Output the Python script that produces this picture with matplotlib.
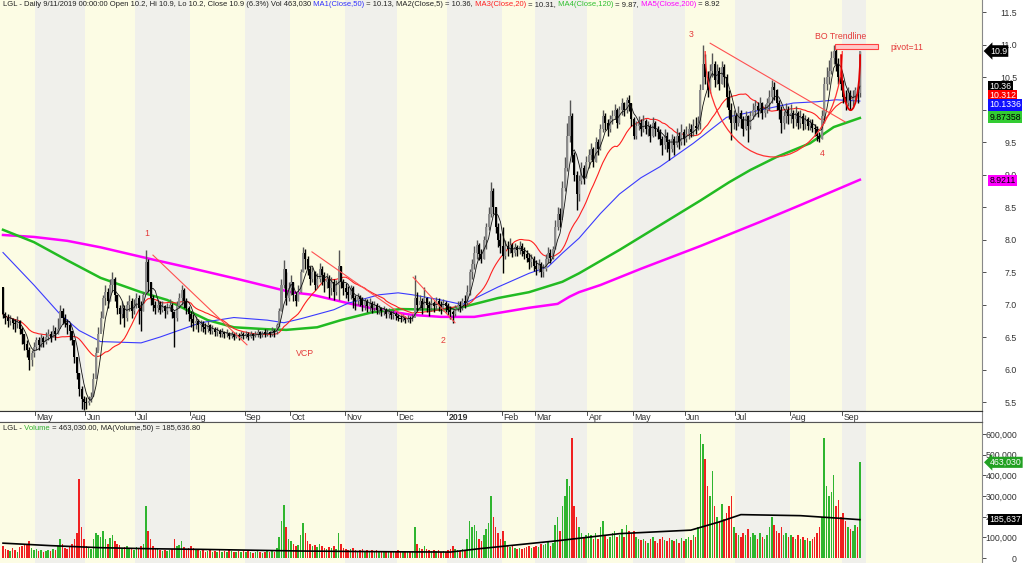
import numpy as np
import pandas as pd
import matplotlib
matplotlib.use("Agg")
import matplotlib.pyplot as plt
from matplotlib import transforms
from matplotlib.patches import Arc, Rectangle

plt.rcParams['font.family'] = ['Liberation Sans', 'DejaVu Sans']

# --- daily bars, Apr 2018 .. 11 Sep 2019 (one row per month) ---
closes = [
    6.85, 6.80, 6.75, 6.78, 6.72, 6.70, 6.74, 6.62, 6.55, 6.40, 6.30, 6.15, 6.25, 6.35,
    6.45, 6.38, 6.48, 6.42, 6.50, 6.55, 6.48, 6.60, 6.55, 6.62, 6.90, 6.80, 6.72, 6.68, 6.60, 6.45, 6.20, 5.95, 5.70, 5.55, 5.50,
    5.48, 5.52, 5.58, 5.85, 6.25, 6.55, 6.80, 7.10, 7.20, 7.05, 7.30, 7.40, 7.15, 6.95, 6.85, 6.95, 6.80, 7.00, 7.05, 6.90, 7.00,
    7.10, 6.95, 6.90, 7.15, 7.65, 7.35, 7.10, 7.00, 6.95, 7.00, 6.92, 6.98, 6.90, 6.95, 7.00, 6.88, 6.80, 6.98, 7.10, 7.22, 7.05, 6.95, 6.85,
    6.78, 6.72, 6.75, 6.68, 6.70, 6.65, 6.62, 6.68, 6.60, 6.62, 6.58, 6.60, 6.55, 6.58, 6.54, 6.56, 6.52, 6.55, 6.50, 6.53, 6.50, 6.55, 6.52,
    6.55, 6.50, 6.54, 6.52, 6.55, 6.58, 6.53, 6.56, 6.55, 6.58, 6.55, 6.60, 6.58, 6.68, 6.90, 7.30, 7.55, 7.10, 7.25,
    7.35, 7.15, 7.05, 7.20, 7.50, 7.80, 7.70, 7.55, 7.40, 7.50, 7.30, 7.40, 7.55, 7.45, 7.35, 7.40, 7.25, 7.35, 7.20, 7.30, 7.60, 7.35, 7.25,
    7.20, 7.15, 7.25, 7.10, 7.05, 7.12, 7.08, 7.00, 7.05, 6.98, 7.02, 6.95, 7.00, 6.92, 6.95, 6.90, 6.92, 6.86, 6.88, 6.84, 6.86, 6.82,
    6.80, 6.78, 6.80, 6.76, 6.79, 6.77, 6.80, 7.10, 7.00, 7.05, 6.95, 7.10, 7.00, 6.95, 7.02, 6.98, 7.05, 7.00, 6.95, 7.02, 6.98,
    6.92, 6.88, 6.85, 6.95, 7.00, 6.98, 7.05, 7.02, 7.20, 7.50, 7.62, 7.80, 7.92, 7.78, 7.70, 8.00, 8.20, 8.40, 8.75, 8.50, 8.20, 8.00, 7.90,
    7.75, 7.90, 7.85, 7.92, 7.80, 7.88, 7.84, 7.90, 7.82, 7.78, 7.72, 7.65, 7.70, 7.60,
    7.55, 7.62, 7.50, 7.55, 7.70, 7.80, 7.72, 7.85, 8.20, 8.40, 8.30, 8.80, 9.10, 9.60, 9.90, 9.30, 9.00, 8.70, 8.90, 9.10, 8.95, 9.20,
    9.30, 9.40, 9.20, 9.50, 9.40, 9.70, 9.90, 9.80, 9.70, 9.85, 9.90, 10.00, 9.80, 10.00, 10.10, 10.00, 10.15, 10.10, 9.85,
    9.60, 9.75, 9.80, 9.70, 9.82, 9.70, 9.75, 9.60, 9.80, 9.70, 9.65, 9.55, 9.45, 9.60, 9.50, 9.40, 9.55, 9.45, 9.60, 9.50, 9.65, 9.55,
    9.62, 9.70, 9.65, 9.75, 9.72, 9.80, 10.30, 10.70, 10.50, 10.30, 10.60, 10.70, 10.45, 10.60, 10.40, 10.65, 10.50, 10.20, 10.00, 9.80, 9.90,
    9.80, 9.95, 9.85, 9.70, 9.90, 9.75, 9.90, 10.00, 10.05, 10.00, 10.10, 9.95, 10.00, 10.10, 10.20, 10.35, 10.30, 10.10, 10.00, 9.80, 9.90, 10.00, 9.90,
    9.95, 9.85, 9.95, 9.80, 9.90, 9.78, 9.85, 9.75, 9.80, 9.72, 9.70, 9.60, 9.55, 9.90, 10.40, 10.50, 10.60, 10.80, 10.90, 10.70, 10.50, 10.40,
    10.20, 10.10, 10.25, 10.15, 10.20, 10.30, 10.25, 10.90,
]
highs = [
    7.27, 6.88, 6.85, 6.84, 6.80, 6.78, 6.82, 6.76, 6.65, 6.55, 6.45, 6.35, 6.30, 6.42,
    6.50, 6.50, 6.55, 6.52, 6.58, 6.62, 6.60, 6.68, 6.65, 6.80, 7.00, 6.95, 6.85, 6.78, 6.72, 6.60, 6.45, 6.20, 5.95, 5.75, 5.60,
    5.58, 5.60, 5.65, 5.95, 6.35, 6.65, 6.90, 7.15, 7.30, 7.25, 7.40, 7.50, 7.42, 7.15, 7.00, 7.05, 7.00, 7.05, 7.15, 7.10, 7.08,
    7.18, 7.15, 7.05, 7.20, 7.84, 7.70, 7.35, 7.15, 7.05, 7.08, 7.05, 7.05, 7.00, 7.02, 7.08, 7.02, 6.90, 7.05, 7.18, 7.30, 7.25, 7.10, 6.98,
    6.90, 6.85, 6.82, 6.78, 6.76, 6.75, 6.72, 6.74, 6.70, 6.68, 6.66, 6.65, 6.62, 6.64, 6.60, 6.62, 6.58, 6.60, 6.58, 6.58, 6.56, 6.60, 6.58,
    6.60, 6.58, 6.60, 6.56, 6.60, 6.62, 6.60, 6.60, 6.62, 6.63, 6.60, 6.65, 6.62, 6.72, 6.95, 7.40, 7.68, 7.50, 7.35,
    7.45, 7.35, 7.20, 7.30, 7.55, 7.88, 7.85, 7.75, 7.60, 7.58, 7.52, 7.48, 7.64, 7.60, 7.50, 7.48, 7.45, 7.42, 7.40, 7.38, 7.84, 7.60, 7.40,
    7.33, 7.28, 7.30, 7.28, 7.15, 7.18, 7.15, 7.12, 7.10, 7.08, 7.10, 7.05, 7.06, 7.02, 7.00, 6.96, 6.98, 6.94, 6.95, 6.90, 6.92, 6.88,
    6.86, 6.84, 6.85, 6.82, 6.84, 6.82, 6.86, 7.45, 7.20, 7.15, 7.10, 7.27, 7.12, 7.05, 7.10, 7.06, 7.12, 7.10, 7.05, 7.08, 7.05,
    7.02, 6.98, 6.92, 7.00, 7.05, 7.05, 7.10, 7.14, 7.30, 7.55, 7.70, 7.90, 7.99, 7.95, 7.85, 8.05, 8.25, 8.50, 8.88, 8.80, 8.50, 8.25, 8.10,
    8.19, 8.00, 7.98, 8.02, 7.95, 7.95, 7.92, 7.98, 7.95, 7.88, 7.84, 7.80, 7.78, 7.75,
    7.68, 7.70, 7.65, 7.62, 7.78, 7.88, 7.85, 7.90, 8.30, 8.50, 8.48, 8.90, 9.27, 9.80, 10.15, 9.95, 9.35, 9.05, 9.00, 9.20, 9.15, 9.28,
    9.40, 9.48, 9.42, 9.58, 9.55, 9.78, 9.99, 9.95, 9.85, 9.92, 10.00, 10.08, 10.02, 10.05, 10.18, 10.12, 10.20, 10.22, 10.10,
    9.88, 9.82, 9.90, 9.85, 9.92, 9.85, 9.82, 9.78, 9.88, 9.82, 9.75, 9.70, 9.60, 9.70, 9.65, 9.55, 9.62, 9.60, 9.72, 9.65, 9.78, 9.70,
    9.75, 9.80, 9.78, 9.85, 9.88, 9.90, 10.40, 11.00, 10.85, 10.60, 10.70, 10.87, 10.75, 10.70, 10.65, 10.75, 10.70, 10.55, 10.30, 10.10, 10.00,
    9.95, 10.05, 10.00, 9.90, 9.98, 9.92, 9.98, 10.10, 10.15, 10.12, 10.20, 10.12, 10.08, 10.18, 10.30, 10.45, 10.42, 10.32, 10.15, 10.05, 9.98, 10.10, 10.05,
    10.08, 10.00, 10.05, 9.98, 10.00, 9.95, 9.92, 9.88, 9.85, 9.85, 9.78, 9.75, 9.65, 10.00, 10.50, 10.65, 10.76, 10.90, 11.00, 10.98, 10.80, 10.60,
    10.45, 10.30, 10.35, 10.30, 10.30, 10.35, 10.35, 10.90,
]
lows = [
    6.80, 6.70, 6.65, 6.68, 6.62, 6.58, 6.64, 6.55, 6.40, 6.30, 6.20, 6.00, 6.05, 6.20,
    6.30, 6.30, 6.35, 6.35, 6.40, 6.45, 6.42, 6.50, 6.45, 6.55, 6.70, 6.70, 6.65, 6.55, 6.45, 6.38, 6.10, 5.85, 5.60, 5.40, 5.38,
    5.40, 5.45, 5.50, 5.60, 5.90, 6.30, 6.60, 6.80, 7.00, 6.95, 7.05, 7.20, 7.05, 6.85, 6.70, 6.80, 6.65, 6.75, 6.90, 6.80, 6.85,
    6.95, 6.70, 6.60, 6.90, 7.20, 7.20, 7.00, 6.90, 6.85, 6.88, 6.85, 6.88, 6.80, 6.85, 6.90, 6.80, 6.35, 6.75, 6.95, 7.00, 6.95, 6.85, 6.75,
    6.65, 6.60, 6.62, 6.58, 6.60, 6.58, 6.55, 6.58, 6.55, 6.55, 6.52, 6.52, 6.50, 6.50, 6.48, 6.50, 6.47, 6.48, 6.46, 6.48, 6.45, 6.48, 6.47,
    6.48, 6.45, 6.48, 6.46, 6.50, 6.50, 6.48, 6.50, 6.50, 6.52, 6.50, 6.52, 6.50, 6.55, 6.65, 6.90, 7.25, 7.00, 7.05,
    7.15, 7.05, 6.98, 7.05, 7.20, 7.50, 7.55, 7.45, 7.30, 7.35, 7.22, 7.25, 7.35, 7.30, 7.20, 7.25, 7.10, 7.15, 7.07, 7.15, 7.07, 7.25, 7.15,
    7.10, 7.05, 7.08, 6.95, 6.92, 7.00, 6.98, 6.90, 6.92, 6.88, 6.90, 6.87, 6.90, 6.86, 6.86, 6.82, 6.84, 6.80, 6.80, 6.78, 6.78, 6.76,
    6.74, 6.73, 6.74, 6.72, 6.73, 6.72, 6.74, 6.85, 6.90, 6.92, 6.85, 6.95, 6.88, 6.82, 6.90, 6.88, 6.92, 6.90, 6.85, 6.90, 6.88,
    6.84, 6.78, 6.72, 6.82, 6.90, 6.88, 6.92, 6.95, 7.00, 7.15, 7.40, 7.55, 7.70, 7.68, 7.64, 7.70, 7.85, 8.15, 8.35, 8.40, 8.10, 7.88, 7.80,
    7.48, 7.70, 7.75, 7.80, 7.73, 7.75, 7.74, 7.78, 7.75, 7.70, 7.65, 7.55, 7.58, 7.52,
    7.45, 7.50, 7.42, 7.42, 7.52, 7.64, 7.64, 7.70, 7.85, 8.15, 8.20, 8.35, 8.75, 9.05, 9.50, 9.20, 8.90, 8.45, 8.60, 8.85, 8.85, 8.95,
    9.10, 9.22, 9.12, 9.20, 9.30, 9.38, 9.65, 9.68, 9.60, 9.65, 9.78, 9.85, 9.72, 9.78, 9.92, 9.90, 9.95, 9.98, 9.75,
    9.55, 9.55, 9.68, 9.60, 9.65, 9.62, 9.60, 9.50, 9.58, 9.60, 9.55, 9.45, 9.30, 9.40, 9.35, 9.22, 9.35, 9.30, 9.42, 9.40, 9.45, 9.45,
    9.50, 9.55, 9.58, 9.60, 9.62, 9.68, 9.70, 10.40, 10.40, 10.20, 10.25, 10.50, 10.35, 10.40, 10.30, 10.40, 10.35, 10.04, 9.85, 9.53, 9.70,
    9.68, 9.75, 9.72, 9.60, 9.68, 9.50, 9.70, 9.85, 9.90, 9.88, 9.95, 9.85, 9.88, 9.95, 10.00, 10.10, 10.15, 10.00, 9.85, 9.64, 9.70, 9.80, 9.78,
    9.80, 9.72, 9.75, 9.70, 9.72, 9.68, 9.70, 9.68, 9.68, 9.65, 9.60, 9.52, 9.50, 9.55, 9.80, 10.30, 10.40, 10.55, 10.70, 10.60, 10.40, 10.30,
    10.10, 9.99, 10.05, 10.00, 10.05, 10.10, 10.10, 10.20,
]
volume_k = [
    60, 45, 40, 35, 50, 40, 30, 55, 60, 70, 65, 80, 50, 40,
    45, 35, 40, 30, 35, 40, 35, 45, 40, 60, 90, 70, 50, 45, 55, 70, 90, 120, 380, 150, 90,
    60, 50, 45, 90, 120, 110, 100, 130, 90, 70, 95, 110, 80, 70, 65, 50, 55, 60, 50, 45, 40,
    55, 50, 60, 70, 250, 130, 90, 60, 50, 45, 40, 35, 40, 35, 40, 45, 90, 60, 65, 80, 55, 45, 50,
    60, 50, 40, 45, 35, 40, 30, 35, 40, 30, 35, 30, 40, 30, 35, 30, 40, 35, 30, 30, 35, 30, 35,
    30, 35, 30, 25, 30, 35, 30, 25, 30, 35, 30, 35, 30, 50, 100, 180, 255, 150, 90,
    80, 70, 60, 65, 110, 170, 120, 80, 70, 60, 65, 55, 70, 60, 50, 45, 55, 50, 60, 45, 120, 70, 50,
    45, 40, 45, 50, 40, 35, 40, 45, 35, 40, 35, 40, 35, 40, 30, 35, 30, 35, 30, 35, 30, 35,
    40, 35, 30, 35, 30, 30, 35, 150, 70, 50, 45, 60, 45, 40, 35, 40, 35, 40, 30, 35, 30,
    40, 45, 60, 45, 40, 35, 45, 40, 90, 180, 150, 160, 130, 90, 80, 110, 140, 170, 300, 200, 150, 120, 90,
    130, 80, 60, 55, 60, 50, 45, 50, 45, 50, 55, 60, 50, 55,
    60, 55, 70, 65, 70, 80, 60, 75, 160, 200, 130, 250, 300, 380, 350, 580, 250, 200, 150, 120, 100, 110,
    120, 110, 90, 120, 90, 150, 180, 110, 90, 100, 120, 130, 100, 110, 140, 100, 160, 130, 120,
    130, 100, 90, 85, 90, 80, 75, 90, 100, 80, 75, 90, 100, 85, 80, 95, 85, 80, 90, 75, 95, 80,
    90, 100, 85, 110, 100, 150, 600, 550, 480, 350, 300, 420, 250, 200, 180, 260, 190, 220, 250, 300, 150,
    120, 110, 100, 120, 110, 140, 100, 120, 110, 90, 120, 100, 90, 110, 150, 200, 160, 130, 120, 150, 110, 120, 100,
    110, 100, 90, 110, 90, 100, 85, 95, 80, 90, 100, 120, 150, 200, 580, 350, 300, 320, 400, 250, 280, 200,
    220, 180, 150, 140, 130, 160, 150, 463.03,
]

# month labels on the date strip and the bar where each month starts
month_labels = ['May', 'Jun', 'Jul', 'Aug', 'Sep', 'Oct', 'Nov', 'Dec', '2019',
                'Feb', 'Mar', 'Apr', 'May', 'Jun', 'Jul', 'Aug', 'Sep']
month_start = [14, 35, 56, 79, 102, 121, 144, 166, 187, 210, 224, 246, 265, 287, 308, 331, 353]

# long moving averages (bar number, value)
ma50_bar = [0, 13, 24, 32, 41, 58, 66, 83, 97, 111, 118, 125, 139, 145, 158, 166, 172, 184, 193,
            208, 221, 229, 235, 242, 251, 259, 268, 276, 290, 304, 318, 332, 342, 350, 360]
ma50_val = [7.80, 7.30, 6.85, 6.60, 6.43, 6.41, 6.50, 6.72, 6.80, 6.76, 6.72, 6.78, 6.92, 7.02, 7.15, 7.18,
            7.15, 7.07, 7.00, 7.27, 7.48, 7.58, 7.79, 8.02, 8.40, 8.70, 8.95, 9.12, 9.48, 9.88, 9.99, 10.10,
            10.12, 10.15, 10.13]
ma120_bar = [0, 13, 27, 41, 58, 69, 77, 86, 97, 111, 119, 132, 142, 155, 167, 184, 193, 208, 221,
             235, 242, 259, 276, 293, 305, 314, 325, 339, 349, 360]
ma120_val = [8.15, 7.96, 7.68, 7.41, 7.19, 7.07, 6.92, 6.76, 6.65, 6.62, 6.61, 6.65, 6.76, 6.88, 6.93,
             6.92, 6.96, 7.10, 7.19, 7.35, 7.48, 7.84, 8.22, 8.60, 8.88, 9.07, 9.27, 9.48, 9.73, 9.87]
ma200_bar = [0, 13, 27, 41, 62, 79, 100, 121, 130, 145, 158, 172, 184, 198, 208, 221, 233, 238,
             242, 251, 268, 293, 318, 335, 360]
ma200_val = [8.07, 8.04, 7.98, 7.88, 7.70, 7.56, 7.38, 7.19, 7.15, 7.02, 6.92, 6.84, 6.81, 6.81, 6.87,
             6.95, 7.01, 7.12, 7.19, 7.30, 7.55, 7.90, 8.27, 8.53, 8.92]
vma_bar = [0, 20, 41, 62, 83, 125, 167, 188, 200, 217, 234, 259, 289, 301, 310, 335, 348, 360]
vma_k = [72, 60, 50, 45, 42, 34, 30, 29, 45, 65, 85, 118, 135, 175, 210, 205, 195, 185.6]

W, H = 1024, 563
YEL, GRY = '#fcfce4', '#f0f0eb'
RED_TXT = '#e43a3a'

c = np.array(closes)
hi = np.array(highs)
lo = np.array(lows)
vol = np.array(volume_k) * 1000
n = len(c)
idx = np.arange(n)
o = np.r_[hi[0], c[:-1]]
up = c >= o

ma5 = pd.Series(c).rolling(5, min_periods=1).mean()
ma20 = pd.Series(c).rolling(20, min_periods=1).mean()

fig = plt.figure(figsize=(W / 100, H / 100), dpi=100)
fig.patch.set_facecolor('white')
ax = fig.add_axes([0, 1 - 411 / H, 982 / W, 411 / H])
axd = fig.add_axes([0, 1 - 422 / H, 982 / W, 11 / H])
axv = fig.add_axes([0, 0, 982 / W, 141 / H])

x0, x1 = -1.26, 411.3
edges = [x0] + [m - 0.5 for m in month_start] + [362.6, x1]
for a in (ax, axv):
    a.set_xlim(x0, x1)
    for k in range(len(edges) - 1):
        a.axvspan(edges[k], edges[k + 1], color=YEL if k % 2 == 0 else GRY, lw=0, zorder=0)

# --- price panel ---
ax.set_ylim(5.362, 11.685)
ax.plot(ma200_bar, ma200_val, color='#ff00ff', lw=1.8, zorder=2)
ax.plot(ma120_bar, ma120_val, color='#22bb22', lw=1.8, zorder=2)
ax.plot(ma50_bar, ma50_val, color='#3a3aff', lw=0.8, zorder=2)
ax.plot(idx, ma20, color='#ff2020', lw=0.8, zorder=2)
ax.vlines(idx, lo, hi, colors=np.where(up, '#555555', '#000000'), lw=1.0, zorder=3)
ax.bar(idx, np.maximum(np.abs(c - o), 0.02), bottom=np.minimum(o, c), width=0.85,
       color=np.where(up, '#8c8c8c', '#000000'), lw=0, zorder=3)
ax.plot(idx, ma5, color='#111111', lw=0.6, zorder=4)

# trendlines, cup and handle
tl = [((63.0, 7.76), (102.5, 6.38)), ((129.8, 7.81), (169.7, 6.79)),
      ((172.3, 7.42), (189.9, 6.72)), ((297.1, 11.02), (353.8, 9.81))]
for (xa, ya), (xb, yb) in tl:
    ax.plot([xa, xb], [ya, yb], color='#ff5050', lw=0.8, zorder=4)
ax.add_patch(Arc((323.8, 10.9), 57.6, 3.26, theta1=180, theta2=360, color='#ff3030', lw=0.9, zorder=4))
ax.add_patch(Arc((356.1, 10.85), 8.0, 1.72, theta1=180, theta2=360, color='#e00000', lw=1.3, zorder=4))
ax.add_patch(Rectangle((349.6, 10.935), 18.0, 0.075, fc='#ffc8c8', ec='#ff4040', lw=0.8, zorder=4))

for s, xx, yy in [('1', 60.5, 8.10), ('VCP', 126.9, 6.25), ('2', 184.9, 6.45),
                  ('3', 289.0, 11.15), ('4', 344.0, 9.32), ('BO Trendline', 351.7, 11.12)]:
    ax.text(xx, yy, s, color=RED_TXT, fontsize=6.3, ha='center', va='center', zorder=5)
ax.text(372.7, 10.95, 'pivot=11', color=RED_TXT, fontsize=6.3, ha='left', va='center', zorder=5)

ax.set_xticks([])
ax.yaxis.tick_right()
ax.set_yticks(np.arange(5.5, 11.51, 0.5))
ax.set_yticklabels([f'{v:.1f}' for v in np.arange(5.5, 11.51, 0.5)])
ax.tick_params(axis='y', direction='out', length=3, pad=22.2, labelsize=6.3,
               colors='#333333', width=0.6)
for lab in ax.get_yticklabels():
    lab.set_horizontalalignment('right')
for sp in ('top', 'left'):
    ax.spines[sp].set_visible(False)
ax.spines['right'].set_color('#888888')
ax.spines['bottom'].set_color('#333333')
ax.spines['bottom'].set_linewidth(0.8)

bt = transforms.blended_transform_factory(ax.transAxes, ax.transData)
ax.text(1.008, 10.9, '10.9', transform=bt, clip_on=False, fontsize=6.3, color='white',
        va='center', ha='left', zorder=6,
        bbox=dict(boxstyle='larrow,pad=0.15', fc='black', ec='none'))
for s, yy, fc, tc in [('10.36', 10.36, 'black', 'white'), ('10.312', 10.22, '#ff0000', 'white'),
                      ('10.1336', 10.07, '#1010ff', 'white'), ('9.87358', 9.885, '#33cc33', 'black'),
                      ('8.9211', 8.915, '#ff00ff', 'black')]:
    ax.text(1.0075, yy, s, transform=bt, clip_on=False, fontsize=6.3, color=tc, va='center',
            ha='left', zorder=6, bbox=dict(boxstyle='square,pad=0.12', fc=fc, ec='none'))

# --- date strip ---
axd.set_xlim(x0, x1)
axd.set_ylim(0, 1)
axd.set_facecolor('white')
axd.set_xticks([])
axd.set_yticks([])
axd.spines['left'].set_visible(False)
axd.spines['top'].set_color('#333333')
axd.spines['bottom'].set_color('#555555')
axd.spines['right'].set_color('#888888')
for lab, m in zip(month_labels, month_start):
    axd.plot([m - 0.5, m - 0.5], [1, 0.6], color='#333333', lw=0.6)
    axd.text(m + 0.1, 0.42, lab, fontsize=6.3, color='#333333', va='center', ha='left',
             fontweight='bold' if lab == '2019' else 'normal')

# --- volume panel ---
axv.set_ylim(-24000, 658000)
axv.bar(idx, vol, width=0.65, color=np.where(up, '#2fb52f', '#f02020'), lw=0, zorder=2)
axv.plot(vma_bar, np.array(vma_k) * 1000, color='black', lw=1.2, zorder=3)
axv.set_xticks([])
axv.yaxis.tick_right()
vt = np.arange(0, 600001, 100000)
axv.set_yticks(vt)
axv.set_yticklabels([f'{v:,}' for v in vt])
axv.tick_params(axis='y', direction='out', length=3, pad=22.2, labelsize=6.3,
                colors='#333333', width=0.6)
for lab in axv.get_yticklabels():
    lab.set_horizontalalignment('right')
for sp in ('bottom', 'left'):
    axv.spines[sp].set_visible(False)
axv.spines['right'].set_color('#888888')
axv.spines['top'].set_color('#555555')

vbt = transforms.blended_transform_factory(axv.transAxes, axv.transData)
axv.text(1.008, 463030, '463,030', transform=vbt, clip_on=False, fontsize=6.3, color='white',
         va='center', ha='left', zorder=6,
         bbox=dict(boxstyle='larrow,pad=0.12', fc='#22a022', ec='none'))
axv.text(1.0075, 185637, '185,637', transform=vbt, clip_on=False, fontsize=6.3, color='white',
         va='center', ha='left', zorder=6, bbox=dict(boxstyle='square,pad=0.12', fc='black', ec='none'))

# --- header lines with coloured parts ---
renderer = fig.canvas.get_renderer()


def rich_text(x_px, y_px, parts, size=5.5):
    x = x_px
    for s, col in parts:
        t = fig.text(x / W, 1 - y_px / H, s, color=col, fontsize=size, va='center', ha='left')
        x += t.get_window_extent(renderer).width


rich_text(3, 5, [
    ('LGL - Daily 9/11/2019 00:00:00 Open 10.2, Hi 10.9, Lo 10.2, Close 10.9 (6.3%) Vol 463,030', '#222222'),
    (' MA1(Close,50)', '#3030ff'), (' = 10.13, MA2(Close,5) = 10.36,', '#222222'),
    (' MA3(Close,20)', '#ff2020'), (' = 10.31,', '#222222'),
    (' MA4(Close,120)', '#30c030'), (' = 9.87,', '#222222'),
    (' MA5(Close,200)', '#ff00ff'), (' = 8.92', '#222222'),
])
rich_text(3, 428, [
    ('LGL -', '#222222'), (' Volume', '#30b030'),
    (' = 463,030.00, MA(Volume,50) = 185,636.80', '#222222'),
])

fig.savefig('out.png', dpi=100)
